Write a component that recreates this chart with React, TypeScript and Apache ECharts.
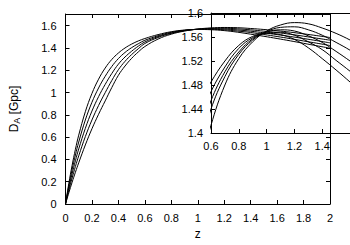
import { useEffect, useRef } from "react";
import * as echarts from "echarts";

const Z = [0, 0.025, 0.05, 0.075, 0.1, 0.15, 0.2, 0.25, 0.3, 0.35, 0.4, 0.45, 0.5, 0.55, 0.6, 0.7, 0.8, 0.9, 1.0, 1.1, 1.2, 1.3, 1.4, 1.5, 1.6, 1.7, 1.8, 1.9, 2.0];
const DA_1 = [0, 0.184, 0.347, 0.491, 0.618, 0.828, 0.992, 1.120, 1.220, 1.297, 1.355, 1.400, 1.435, 1.463, 1.485, 1.520, 1.546, 1.561, 1.566, 1.564, 1.556, 1.542, 1.524, 1.505, 1.485, 1.464, 1.442, 1.420, 1.398];
const DA_2 = [0, 0.163, 0.309, 0.440, 0.556, 0.754, 0.913, 1.041, 1.146, 1.234, 1.305, 1.360, 1.403, 1.438, 1.469, 1.510, 1.541, 1.559, 1.567, 1.568, 1.563, 1.552, 1.539, 1.521, 1.503, 1.484, 1.463, 1.443, 1.422];
const DA_3 = [0, 0.142, 0.271, 0.388, 0.494, 0.679, 0.834, 0.963, 1.073, 1.171, 1.255, 1.319, 1.371, 1.416, 1.454, 1.502, 1.535, 1.557, 1.568, 1.572, 1.570, 1.562, 1.551, 1.536, 1.520, 1.503, 1.485, 1.466, 1.446];
const DA_4 = [0, 0.121, 0.233, 0.337, 0.432, 0.605, 0.754, 0.884, 0.999, 1.108, 1.205, 1.280, 1.341, 1.393, 1.440, 1.494, 1.531, 1.555, 1.569, 1.576, 1.577, 1.572, 1.563, 1.551, 1.538, 1.523, 1.506, 1.488, 1.470];
const DA_5 = [0, 0.100, 0.195, 0.285, 0.370, 0.530, 0.675, 0.805, 0.925, 1.045, 1.155, 1.238, 1.307, 1.364, 1.413, 1.480, 1.524, 1.552, 1.570, 1.580, 1.584, 1.582, 1.575, 1.566, 1.555, 1.542, 1.527, 1.511, 1.494];

const CURVES = [DA_1, DA_2, DA_3, DA_4, DA_5];
const FONT = "Liberation Sans";

export default function App() {
  const ref = useRef<HTMLDivElement>(null);
  useEffect(() => {
    const chart = echarts.init(ref.current!, null, { renderer: "svg" });
    const line = { show: true, onZero: false, lineStyle: { color: "#000", width: 1 } };
    const tick = { show: true, inside: true, length: 4, lineStyle: { color: "#000", width: 1 } };
    const label = { color: "#000", fontFamily: FONT, fontSize: 11 };
    const series: any[] = [];
    CURVES.forEach((c) => {
      const data = Z.map((z, i) => [z, c[i]]);
      series.push({
        type: "line", xAxisIndex: 0, yAxisIndex: 0, data, showSymbol: false, smooth: 0.4,
        lineStyle: { color: "#000", width: 1 }, silent: true,
      });
      series.push({
        type: "line", xAxisIndex: 2, yAxisIndex: 2, data, showSymbol: false, smooth: 0.4,
        lineStyle: { color: "#000", width: 1 }, silent: true,
      });
    });
    chart.setOption({
      animation: false,
      grid: [
        { left: 62, top: 14, width: 268, height: 194 },
        { left: 211, top: 13, width: 147.5, height: 120 },
      ],
      xAxis: [
        {
          type: "value", gridIndex: 0, min: 0, max: 2, interval: 0.2, position: "bottom",
          axisLine: line, axisTick: tick, splitLine: { show: false },
          axisLabel: { ...label, margin: 8, formatter: (v: number) => String(+v.toFixed(1)) },
          name: "z", nameLocation: "middle", nameGap: 24,
          nameTextStyle: { color: "#000", fontFamily: FONT, fontSize: 12 },
        },
        {
          type: "value", gridIndex: 0, min: 0, max: 2, interval: 0.2, position: "top",
          axisLine: line, axisTick: tick, splitLine: { show: false }, axisLabel: { show: false },
        },
        {
          type: "value", gridIndex: 1, min: 0.6, max: 1.6, interval: 0.2, position: "bottom",
          axisLine: line, axisTick: tick, splitLine: { show: false },
          axisLabel: { ...label, margin: 7, showMaxLabel: false, formatter: (v: number) => String(+v.toFixed(1)) },
        },
        {
          type: "value", gridIndex: 1, min: 0.6, max: 1.6, interval: 0.2, position: "top",
          axisLine: line, axisTick: tick, splitLine: { show: false }, axisLabel: { show: false },
        },
      ],
      yAxis: [
        {
          type: "value", gridIndex: 0, min: 0, max: 1.705, interval: 0.2, position: "left",
          axisLine: line, axisTick: tick, splitLine: { show: false },
          axisLabel: { ...label, margin: 9, showMaxLabel: false, formatter: (v: number) => String(+v.toFixed(1)) },
          name: "{a|D}{b|A}{a| [Gpc]}", nameLocation: "middle", nameGap: 44, nameRotate: 90,
          nameTextStyle: {
            color: "#000", fontFamily: FONT, fontSize: 12,
            rich: {
              a: { fontFamily: FONT, fontSize: 12, color: "#000", lineHeight: 15 },
              b: { fontFamily: FONT, fontSize: 9, color: "#000", verticalAlign: "bottom", lineHeight: 9 },
            },
          },
        },
        {
          type: "value", gridIndex: 0, min: 0, max: 1.705, interval: 0.2, position: "right",
          axisLine: line, axisTick: tick, splitLine: { show: false }, axisLabel: { show: false },
        },
        {
          type: "value", gridIndex: 1, min: 1.4, max: 1.6, interval: 0.04, position: "left",
          axisLine: line, axisTick: tick, splitLine: { show: false },
          axisLabel: { ...label, margin: 8, formatter: (v: number) => String(+v.toFixed(2)) },
        },
      ],
      series,
    });
    return () => chart.dispose();
  }, []);
  return <div ref={ref} style={{ position: "absolute", left: 0, top: 0, width: 350, height: 245 }} />;
}
